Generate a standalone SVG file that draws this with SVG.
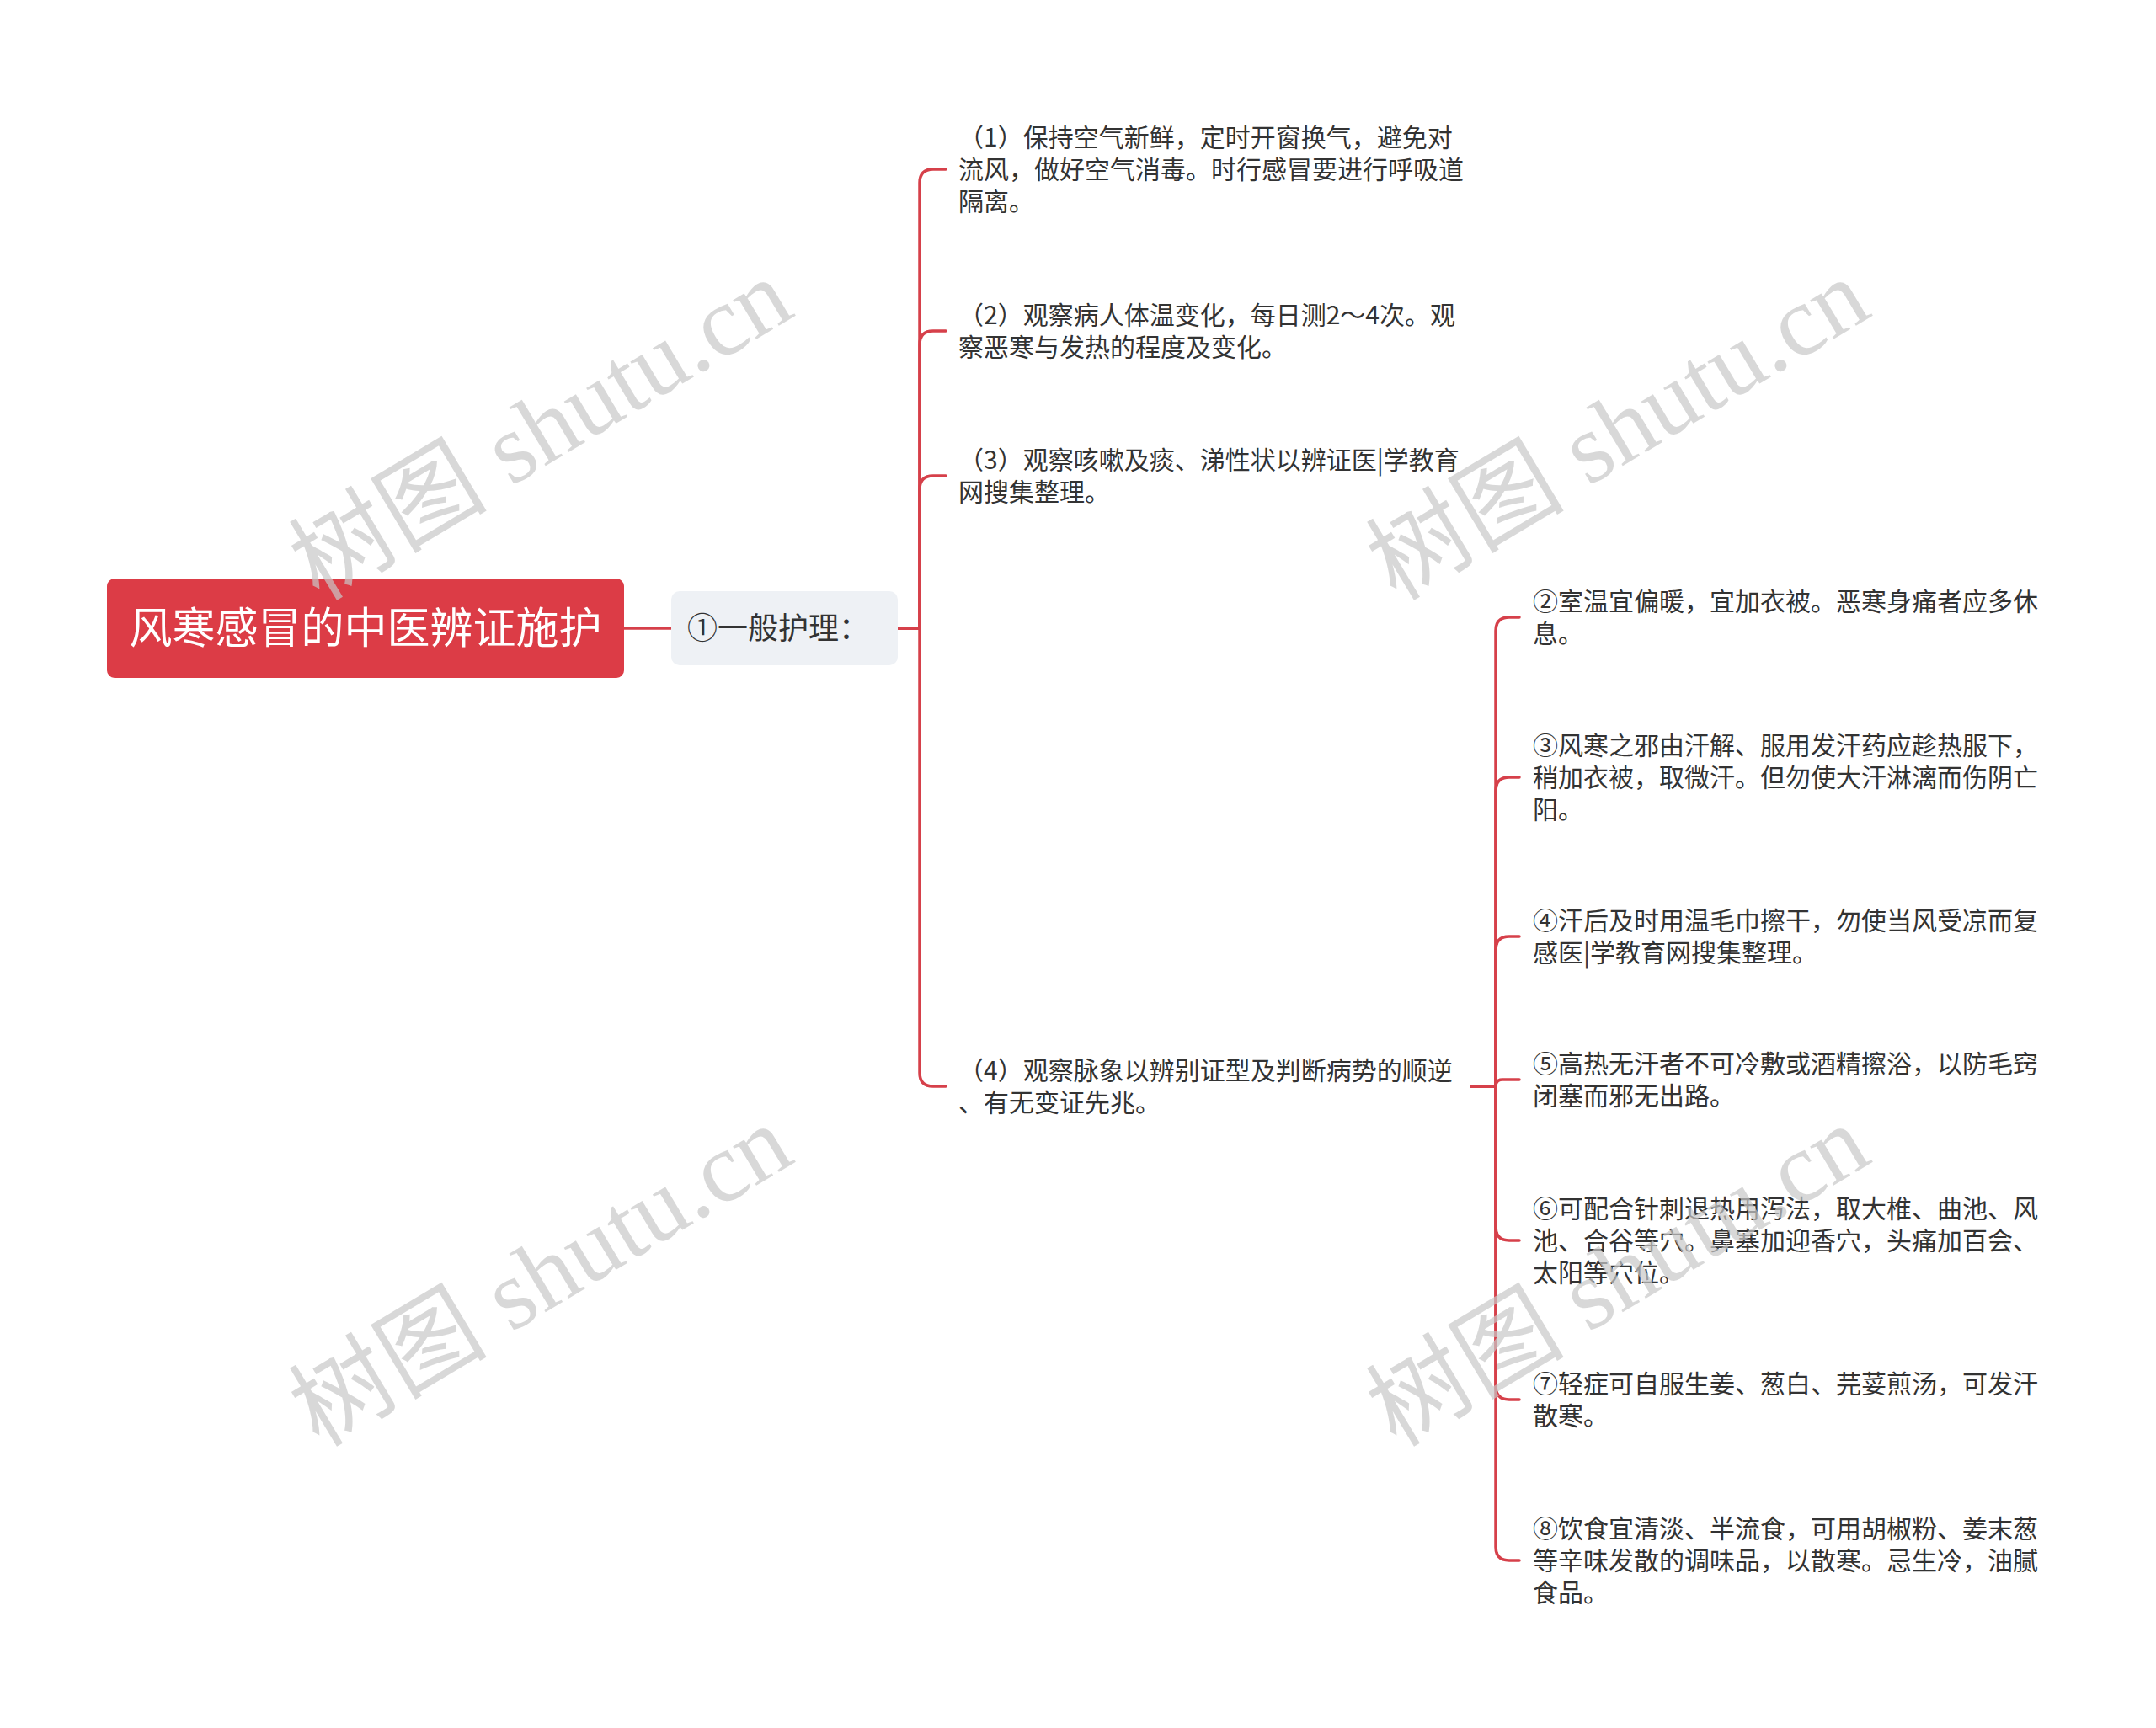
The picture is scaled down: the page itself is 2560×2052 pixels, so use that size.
<svg xmlns="http://www.w3.org/2000/svg" width="2560" height="2052" viewBox="0 0 2560 2052">
<style>
.t{font-family:"Noto Sans CJK SC","Noto Sans",sans-serif;font-size:30px;fill:#333333}
.c{fill:none;stroke:#d6404a;stroke-width:3.5;stroke-linecap:round;stroke-linejoin:round}
.wm{font-family:"Liberation Serif","Noto Sans CJK SC",serif;font-size:118px;fill:#c8c8c8;fill-opacity:0.7;text-anchor:middle}
</style>
<rect width="2560" height="2052" fill="#ffffff"/>
<g id="connectors">
<path class="c" d="M741,746 H797"/>
<path class="c" d="M1066,746 H1092 V217 Q1092,201 1108,201 H1123"/>
<path class="c" d="M1066,746 H1092 V409 Q1092,393 1108,393 H1123"/>
<path class="c" d="M1066,746 H1092 V581 Q1092,565 1108,565 H1123"/>
<path class="c" d="M1066,746 H1092 V1274 Q1092,1290 1108,1290 H1123"/>
<path class="c" d="M1747,1290 H1776 V749 Q1776,733 1792,733 H1804"/>
<path class="c" d="M1747,1290 H1776 V939 Q1776,923 1792,923 H1804"/>
<path class="c" d="M1747,1290 H1776 V1128 Q1776,1112 1792,1112 H1804"/>
<path class="c" d="M1747,1290 H1776 Q1776,1282 1784,1282 H1804"/>
<path class="c" d="M1747,1290 H1776 V1457 Q1776,1473 1792,1473 H1804"/>
<path class="c" d="M1747,1290 H1776 V1646 Q1776,1662 1792,1662 H1804"/>
<path class="c" d="M1747,1290 H1776 V1837 Q1776,1853 1792,1853 H1804"/>
</g>
<g id="root">
<rect x="127" y="687" width="614" height="118" rx="9" fill="#dc3c46"/>
<text x="434" y="764" text-anchor="middle" style="font-family:'Noto Sans CJK SC',sans-serif;font-size:51px;fill:#ffffff">风寒感冒的中医辨证施护</text>
</g>
<g id="n1">
<rect x="797" y="702" width="269" height="88" rx="10" fill="#eef1f5"/>
<text x="816" y="759" style="font-family:'Noto Sans CJK SC',sans-serif;font-size:36px;fill:#333333">①一般护理：</text>
</g>
<g id="c1">
<text class="t" x="1138" y="174">（1）保持空气新鲜，定时开窗换气，避免对</text>
<text class="t" x="1138" y="212">流风，做好空气消毒。时行感冒要进行呼吸道</text>
<text class="t" x="1138" y="250">隔离。</text>
</g>
<g id="c2">
<text class="t" x="1138" y="385">（2）观察病人体温变化，每日测2～4次。观</text>
<text class="t" x="1138" y="423">察恶寒与发热的程度及变化。</text>
</g>
<g id="c3">
<text class="t" x="1138" y="557">（3）观察咳嗽及痰、涕性状以辨证医|学教育</text>
<text class="t" x="1138" y="595">网搜集整理。</text>
</g>
<g id="c4">
<text class="t" x="1138" y="1282">（4）观察脉象以辨别证型及判断病势的顺逆</text>
<text class="t" x="1138" y="1320">、有无变证先兆。</text>
</g>
<g id="s2">
<text class="t" x="1820" y="725">②室温宜偏暖，宜加衣被。恶寒身痛者应多休</text>
<text class="t" x="1820" y="763">息。</text>
</g>
<g id="s3">
<text class="t" x="1820" y="896">③风寒之邪由汗解、服用发汗药应趁热服下，</text>
<text class="t" x="1820" y="934">稍加衣被，取微汗。但勿使大汗淋漓而伤阴亡</text>
<text class="t" x="1820" y="972">阳。</text>
</g>
<g id="s4">
<text class="t" x="1820" y="1104">④汗后及时用温毛巾擦干，勿使当风受凉而复</text>
<text class="t" x="1820" y="1142">感医|学教育网搜集整理。</text>
</g>
<g id="s5">
<text class="t" x="1820" y="1274">⑤高热无汗者不可冷敷或酒精擦浴，以防毛窍</text>
<text class="t" x="1820" y="1312">闭塞而邪无出路。</text>
</g>
<g id="s6">
<text class="t" x="1820" y="1446">⑥可配合针刺退热用泻法，取大椎、曲池、风</text>
<text class="t" x="1820" y="1484">池、合谷等穴。鼻塞加迎香穴，头痛加百会、</text>
<text class="t" x="1820" y="1522">太阳等穴位。</text>
</g>
<g id="s7">
<text class="t" x="1820" y="1654">⑦轻症可自服生姜、葱白、芫荽煎汤，可发汗</text>
<text class="t" x="1820" y="1692">散寒。</text>
</g>
<g id="s8">
<text class="t" x="1820" y="1826">⑧饮食宜清淡、半流食，可用胡椒粉、姜末葱</text>
<text class="t" x="1820" y="1864">等辛味发散的调味品，以散寒。忌生冷，油腻</text>
<text class="t" x="1820" y="1902">食品。</text>
</g>
<g id="watermarks">
<text class="wm" transform="translate(642,510) rotate(-31)" y="40">树图 shutu.cn</text>
<text class="wm" transform="translate(1921,510) rotate(-31)" y="40">树图 shutu.cn</text>
<text class="wm" transform="translate(642,1515) rotate(-31)" y="40">树图 shutu.cn</text>
<text class="wm" transform="translate(1921,1515) rotate(-31)" y="40">树图 shutu.cn</text>
</g>
</svg>
